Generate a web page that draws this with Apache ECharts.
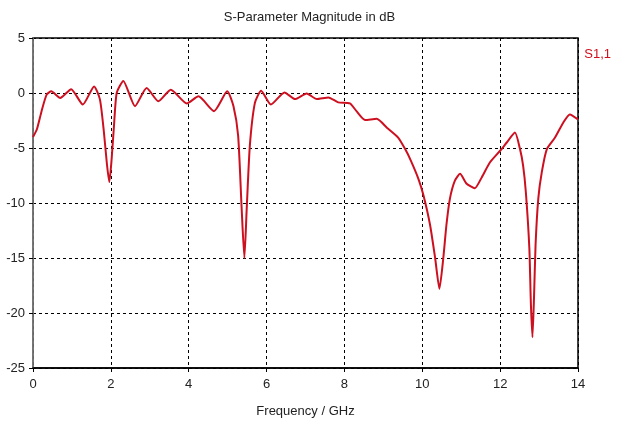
<!DOCTYPE html>
<html><head><meta charset="utf-8">
<script src="https://cdn.jsdelivr.net/npm/echarts@6/dist/echarts.min.js"></script>
<style>html,body{margin:0;padding:0;background:#fff}#c{width:619px;height:423px}</style>
</head><body><div id="c"></div>
<script>
const title = 'S-Parameter Magnitude in dB';
const seriesName = 'S1,1';
const xAxisName = 'Frequency / GHz';
const freq = [0,0.1,0.22,0.35,0.47,0.70,0.98,1.28,1.57,1.72,1.82,1.90,1.96,2.02,2.08,2.15,2.32,2.62,2.92,3.22,3.54,3.95,4.25,4.65,4.99,5.15,5.27,5.36,5.43,5.49,5.57,5.70,5.86,6.11,6.46,6.73,7.03,7.29,7.59,7.84,8.14,8.31,8.53,8.83,9.09,9.38,9.56,9.70,9.90,10.03,10.2,10.33,10.44,10.54,10.62,10.71,10.84,10.97,11.14,11.35,11.53,11.74,12.0,12.17,12.38,12.51,12.59,12.66,12.75,12.79,12.83,12.87,12.91,12.98,13.07,13.20,13.41,13.62,13.79,14.0];
const s11 = [-4.0,-3.3,-1.65,-0.15,0.15,-0.45,0.35,-1.05,0.6,-0.6,-3.5,-6.5,-8.1,-6.0,-3.0,0,1.1,-1.2,0.45,-0.75,0.3,-0.95,-0.3,-1.65,0.15,-1.2,-3.9,-10.5,-15.0,-10.5,-4.8,-0.9,0.2,-1.05,0.05,-0.55,-0.05,-0.55,-0.4,-0.85,-0.95,-1.65,-2.45,-2.35,-3.15,-4.05,-5.1,-6.1,-7.8,-9.3,-12.0,-15.0,-17.8,-15.0,-12.0,-9.6,-7.95,-7.35,-8.25,-8.65,-7.65,-6.3,-5.25,-4.5,-3.6,-5.1,-6.6,-9.0,-14.1,-19.2,-22.2,-18.6,-13.8,-9.6,-7.2,-5.1,-4.05,-2.7,-1.95,-2.4];
const xMin = 0, xMax = 14, xStep = 2;
const yMin = -25, yMax = 5, yStep = 5;

const font = 'Liberation Sans';
const chart = echarts.init(document.getElementById('c'), null, {renderer:'canvas'});
chart.setOption({
  animation:false,
  title:{text:title,left:'center',top:6,textStyle:{fontFamily:font,fontSize:13,fontWeight:'normal',color:'#222'}},
  legend:{data:[seriesName],right:3,top:42,icon:'none',itemWidth:0,itemGap:0,
    textStyle:{fontFamily:font,fontSize:13,color:'#d0101c'}},
  grid:{left:33,right:41,top:38,bottom:53,show:true,borderColor:'#000',borderWidth:1.5},
  xAxis:{type:'value',min:xMin,max:xMax,interval:xStep,name:xAxisName,nameLocation:'middle',nameGap:37,
    nameTextStyle:{fontFamily:font,fontSize:13,color:'#222'},
    axisLine:{onZero:false,lineStyle:{color:'#000',width:1.5}},
    axisTick:{show:true,length:4,lineStyle:{color:'#000'}},
    axisLabel:{fontFamily:font,fontSize:13,color:'#222',margin:10},
    splitLine:{show:true,lineStyle:{color:'#000',type:[3,3],width:1}}},
  yAxis:{type:'value',min:yMin,max:yMax,interval:yStep,
    axisLine:{show:true,lineStyle:{color:'#888',width:1.5}},
    axisTick:{show:true,length:4,lineStyle:{color:'#000'}},
    axisLabel:{fontFamily:font,fontSize:13,color:'#222',margin:8},
    splitLine:{show:true,lineStyle:{color:'#000',type:[3,3],width:1}}},
  series:[{name:seriesName,type:'line',data:freq.map((f,i)=>[f,s11[i]]),
    showSymbol:false,smooth:0.2,lineStyle:{color:'#cc1020',width:2},itemStyle:{color:'#cc1020'}}]
});
</script></body></html>
